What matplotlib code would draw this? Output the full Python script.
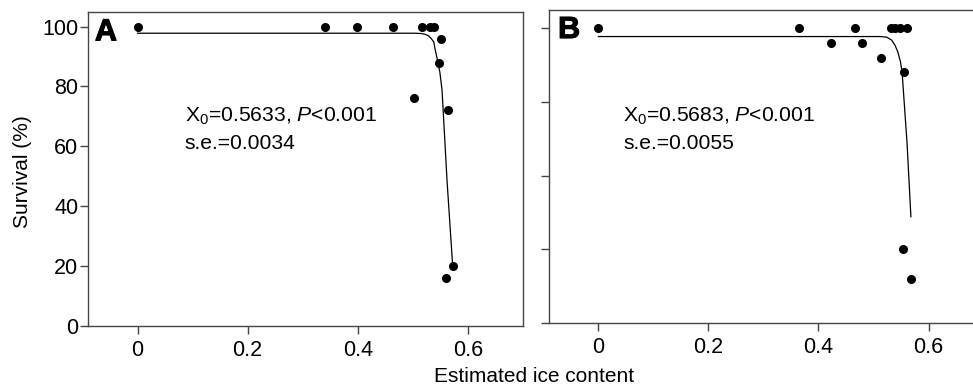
import numpy as np
import matplotlib
matplotlib.use('Agg')
import matplotlib.pyplot as plt
import matplotlib.patheffects as pe

plt.rcParams['font.family'] = ['Liberation Sans', 'DejaVu Sans']
plt.rcParams['mathtext.fontset'] = 'custom'
plt.rcParams['mathtext.rm'] = 'Liberation Sans'
plt.rcParams['mathtext.it'] = 'Liberation Sans:italic'
plt.rcParams['mathtext.bf'] = 'Liberation Sans:bold'

# Panel A: observed survival vs estimated ice content
xa = [0.0, 0.341, 0.399, 0.464, 0.517, 0.532, 0.538, 0.552, 0.547, 0.502, 0.564, 0.572, 0.561]
ya = [100, 100, 100, 100, 100, 100, 100, 96, 88, 76, 72, 20, 16]
# fitted curve
fxa = [0.0, 0.503, 0.515, 0.521, 0.528, 0.533, 0.538, 0.540, 0.544, 0.549, 0.553, 0.562, 0.572]
fya = [97.8, 97.8, 97.7, 97.5, 97.0, 96.1, 94.9, 92.8, 89.4, 84.8, 78.8, 48.7, 20.9]

# Panel B
xb = [0.0, 0.364, 0.423, 0.467, 0.479, 0.513, 0.531, 0.540, 0.549, 0.561, 0.555, 0.553, 0.568]
yb = [100, 100, 95, 100, 95, 90, 100, 100, 100, 100, 85, 25, 15]
fxb = [0.0, 0.512, 0.524, 0.533, 0.539, 0.544, 0.549, 0.552, 0.561, 0.568]
fyb = [97.1, 97.1, 96.9, 95.9, 94.2, 92.0, 88.6, 85.0, 61.0, 36.1]

xticks = [0, 0.2, 0.4, 0.6]
xticklabels = ['0', '0.2', '0.4', '0.6']

fig = plt.figure(figsize=(9.73, 3.88), dpi=100)
axA = fig.add_axes([0.0904, 0.1606, 0.4471, 0.8085])
axB = fig.add_axes([0.5642, 0.1668, 0.4466, 0.8075])

spine_col = '#444444'
for ax in (axA, axB):
    ax.set_xlim(-0.09, 0.7)
    ax.set_xticks(xticks)
    ax.set_xticklabels(xticklabels)
    for s in ax.spines.values():
        s.set_color(spine_col)
        s.set_linewidth(1.0)
    ax.tick_params(axis='both', direction='out', length=5.5, width=1.0,
                   color=spine_col, labelsize=15.5)
    ax.tick_params(axis='x', pad=4.5)
    ax.tick_params(axis='y', pad=1.5)

heavy = [pe.withStroke(linewidth=0.8, foreground='black')]

axA.plot(fxa, fya, color='black', lw=0.9)
axA.plot(xa, ya, 'o', color='black', ms=5.5, zorder=3)
axA.set_ylim(0, 104.9)
axA.set_yticks([0, 20, 40, 60, 80, 100])
axA.set_ylabel('Survival (%)', fontsize=15)
axA.yaxis.set_label_coords(-0.129, 0.49)
axA.text(0.086, 69.9, r'X$_0$=0.5633, $\mathit{P}$<0.001', fontsize=15.2, va='center')
axA.text(0.086, 60.8, 's.e.=0.0034', fontsize=15.2, va='center')
axA.text(0.016, 0.935, 'A', transform=axA.transAxes, fontsize=22, fontweight='bold',
         va='center', path_effects=heavy)

axB.plot(fxb, fyb, color='black', lw=0.9)
axB.plot(xb, yb, 'o', color='black', ms=5.5, zorder=3)
axB.set_ylim(0, 106.1)
axB.set_yticks([0, 25, 50, 75, 100])
axB.set_yticklabels([])
axB.text(0.045, 70, r'X$_0$=0.5683, $\mathit{P}$<0.001', fontsize=15.2, va='center')
axB.text(0.045, 61, 's.e.=0.0055', fontsize=15.2, va='center')
axB.text(0.021, 0.936, 'B', transform=axB.transAxes, fontsize=22, fontweight='bold',
         va='center', path_effects=heavy)

fig.text(534 / 973, 1 - 377 / 388, 'Estimated ice content', fontsize=15, ha='center', va='center')

fig.savefig('out.png', dpi=100)
